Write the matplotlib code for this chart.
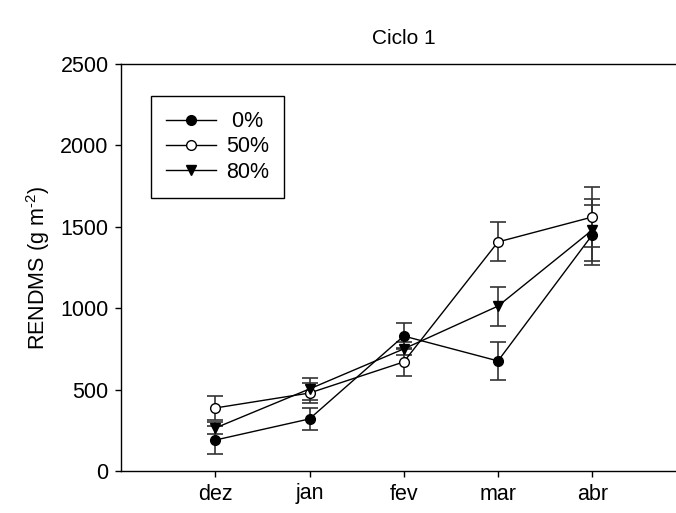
import numpy as np
import matplotlib
matplotlib.use('Agg')
import matplotlib.pyplot as plt

plt.rcParams['font.family'] = ['Liberation Sans', 'DejaVu Sans']
plt.rcParams['mathtext.fontset'] = 'custom'
plt.rcParams['mathtext.rm'] = 'Liberation Sans'
plt.rcParams['mathtext.it'] = 'Liberation Sans'

meses = ['dez', 'jan', 'fev', 'mar', 'abr']
rend_0 = [190, 320, 829, 676, 1450]
erro_0 = [86, 68, 80, 115, 185]
rend_50 = [387, 479, 670, 1407, 1560]
erro_50 = [75, 62, 86, 120, 185]
rend_80 = [264, 504, 750, 1013, 1480]
erro_80 = [35, 70, 40, 120, 190]

fig = plt.figure(figsize=(6.76, 5.13), dpi=100)
ax = fig.add_axes([121 / 676, 42 / 513, 565.5 / 676, 407 / 513])
x = np.arange(1, len(meses) + 1)

series = [
    (rend_0, erro_0, 'o', 'black', ' 0%'),
    (rend_50, erro_50, 'o', 'white', '50%'),
    (rend_80, erro_80, 'v', 'black', '80%'),
]
for y, e, mk, fc, lab in series:
    ax.errorbar(x, y, yerr=e, fmt='none', ecolor='#333333', elinewidth=1.2,
                capsize=6, capthick=1.2, zorder=2)
    ax.plot(x, y, color='black', lw=1, marker=mk, markersize=7,
            markerfacecolor=fc, markeredgecolor='black', markeredgewidth=1,
            label=lab, zorder=3)

ax.set_xlim(0, 6)
ax.set_ylim(0, 2500)
ax.set_xticks(x)
ax.set_xticklabels(meses)
ax.set_yticks([0, 500, 1000, 1500, 2000, 2500])
ax.tick_params(direction='out', length=4, width=1, labelsize=15.5, pad=5)
for s in ax.spines.values():
    s.set_linewidth(1)
ax.set_ylabel('RENDMS (g m$^{\\text{-2}}$)', fontsize=15.5, labelpad=6)
fig.text(404 / 676, 1 - 38 / 513, 'Ciclo 1', ha='center', va='center', fontsize=15)

leg = ax.legend(loc='upper left', bbox_to_anchor=(30 / 565.5, 1 - 32 / 407),
                fontsize=15.5, handlelength=2.3, handletextpad=0.5,
                labelspacing=0.2, borderpad=0.7, fancybox=False,
                edgecolor='black', framealpha=1, borderaxespad=0)
leg.get_frame().set_linewidth(1)

fig.savefig('out.png', dpi=100)
